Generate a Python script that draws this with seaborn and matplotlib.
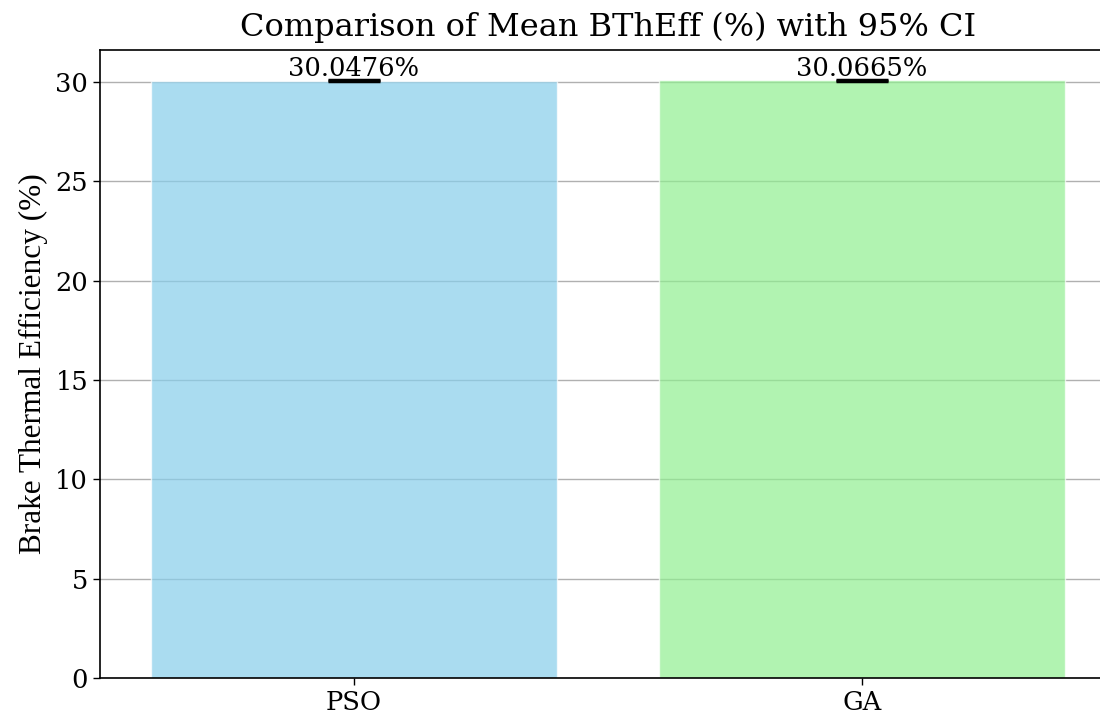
import matplotlib
matplotlib.use("Agg")
import matplotlib.pyplot as plt
import seaborn as sns
import pandas as pd

algorithms = ["PSO", "GA"]
mean_bteff = [30.0476, 30.0665]
ci_half = [0.03, 0.03]
bar_colors = ["skyblue", "lightgreen"]

sns.set_style("white")
plt.rcParams["font.family"] = ["DejaVu Serif"]
plt.rcParams["text.color"] = "black"
plt.rcParams["axes.labelcolor"] = "black"
plt.rcParams["xtick.color"] = "black"
plt.rcParams["ytick.color"] = "black"

fig = plt.figure(figsize=(11, 7.21), dpi=100)
ax = fig.add_axes([100 / 1100, 1 - 678 / 721, 1016 / 1100, 628 / 721])

df = pd.DataFrame({"Algorithm": algorithms, "BThEff": mean_bteff})
sns.barplot(data=df, x="Algorithm", y="BThEff", hue="Algorithm",
            palette=bar_colors, alpha=0.7, width=0.8, errorbar=None,
            saturation=1, legend=False, ax=ax, zorder=2)
ax.errorbar(range(len(algorithms)), mean_bteff, yerr=ci_half, fmt="none",
            ecolor="black", elinewidth=2.5, capsize=19, capthick=2.5, zorder=3)

for i, v in enumerate(mean_bteff):
    ax.text(i, v + 0.25, f"{v:.4f}%", ha="center", va="baseline", fontsize=18.5,
            family="DejaVu Serif", color="black", zorder=4)

ax.set_ylim(0, 31.6)
ax.set_xlim(-0.5, 1.5)
ax.set_yticks([0, 5, 10, 15, 20, 25, 30])
ax.yaxis.grid(True, color="#b0b0b0", linewidth=1.0, zorder=0)
ax.set_axisbelow(True)
ax.tick_params(axis="both", labelsize=18.5, length=5, width=1, colors="black", left=True, bottom=True)
ax.set_xlabel("")
ax.set_ylabel("Brake Thermal Efficiency (%)", fontsize=22.5, family="Liberation Serif",
              labelpad=5, color="black")
ax.set_title("Comparison of Mean BThEff (%) with 95% CI", fontsize=23, pad=10, color="black")
for s in ax.spines.values():
    s.set_color("black")
    s.set_linewidth(1.2)

fig.savefig("out.png", dpi=100)
